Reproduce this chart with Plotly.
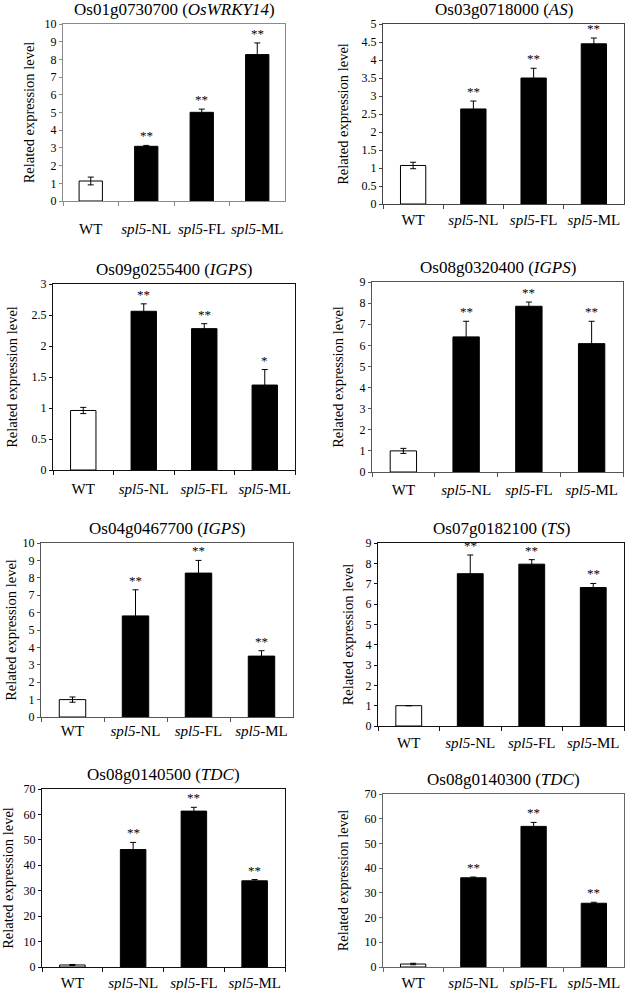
import plotly.graph_objects as go

W, H = 626, 990

categories = ["WT", "spl5-NL", "spl5-FL", "spl5-ML"]
tick_labels = ["WT", "<i>spl5</i>-NL", "<i>spl5</i>-FL", "<i>spl5</i>-ML"]

titles = [
    "Os01g0730700 (<i>OsWRKY14</i>)",
    "Os03g0718000 (<i>AS</i>)",
    "Os09g0255400 (<i>IGPS</i>)",
    "Os08g0320400 (<i>IGPS</i>)",
    "Os04g0467700 (<i>IGPS</i>)",
    "Os07g0182100 (<i>TS</i>)",
    "Os08g0140500 (<i>TDC</i>)",
    "Os08g0140300 (<i>TDC</i>)",
]

v1 = [1.13, 3.09, 5.01, 8.27]; e1 = [0.22, 0.05, 0.18, 0.66]; s1 = ["", "**", "**", "**"]
v2 = [1.07, 2.64, 3.50, 4.45]; e2 = [0.09, 0.22, 0.27, 0.16]; s2 = ["", "**", "**", "**"]
v3 = [0.96, 2.56, 2.28, 1.37]; e3 = [0.05, 0.12, 0.08, 0.25]; s3 = ["", "**", "**", "*"]
v4 = [1.00, 6.40, 7.85, 6.08]; e4 = [0.12, 0.74, 0.20, 1.06]; s4 = ["", "**", "**", "**"]
v5 = [1.00, 5.81, 8.27, 3.50]; e5 = [0.15, 1.50, 0.73, 0.31]; s5 = ["", "**", "**", "**"]
v6 = [1.00, 7.49, 7.96, 6.81]; e6 = [0.00, 0.92, 0.22, 0.20]; s6 = ["", "**", "**", "**"]
v7 = [0.8, 46.2, 61.3, 33.9]; e7 = [0.2, 2.8, 1.5, 0.5]; s7 = ["", "**", "**", "**"]
v8 = [1.2, 36.1, 56.9, 25.8]; e8 = [0.3, 0.3, 1.6, 0.4]; s8 = ["", "**", "**", "**"]

values = [v1, v2, v3, v4, v5, v6, v7, v8]
errors = [e1, e2, e3, e4, e5, e6, e7, e8]
sigs = [s1, s2, s3, s4, s5, s6, s7, s8]

y_max = [10, 5, 3, 9, 10, 9, 70, 70]
y_dtick = [1, 0.5, 0.5, 1, 1, 1, 10, 10]

# panel boxes in pixels: (left, right, top, bottom)
boxes = [
    (63, 285, 24, 201),
    (383, 624, 24, 204),
    (53, 295, 284, 470),
    (372, 623, 282, 472),
    (41, 293, 543, 717),
    (378, 624, 543, 726),
    (42, 285, 789, 967),
    (383, 624, 794, 967),
]
line_colors = ["#8a8a8a", "#444444", "#111111", "#555555", "#555555", "#111111", "#111111", "#666666"]
x_standoff = [14, 2, 5, 4, 0, 3, 2, 2]
y_standoff = [6, 9, 10, 12, 2, 8, 9, 12]

FONT = "Liberation Serif"

fig = go.Figure()
annotations = []
for i in range(8):
    l, r, t, b = boxes[i]
    xa = "x" if i == 0 else f"x{i+1}"
    ya = "y" if i == 0 else f"y{i+1}"
    fig.add_trace(go.Bar(
        x=categories, y=values[i],
        marker=dict(color=["white", "black", "black", "black"],
                    line=dict(color="black", width=1)),
        error_y=dict(type="data", array=errors[i], visible=True,
                     color="black", thickness=1, width=3),
        xaxis=xa, yaxis=ya, showlegend=False, hoverinfo="skip",
    ))
    key = "" if i == 0 else str(i + 1)
    fig.update_layout(**{
        f"xaxis{key}": dict(
            domain=[l / W, r / W], anchor=ya, automargin=False,
            categoryorder="array", categoryarray=categories,
            tickmode="array", tickvals=categories, ticktext=tick_labels,
            tickangle=0,
            showline=True, linecolor=line_colors[i], linewidth=1, mirror=True,
            ticks="outside", tickson="boundaries", ticklen=4, tickcolor=line_colors[i],
            ticklabelstandoff=x_standoff[i],
            tickfont=dict(family=FONT, size=15, color="black"),
            showgrid=False, zeroline=False, fixedrange=True,
        ),
        f"yaxis{key}": dict(
            domain=[1 - b / H, 1 - t / H], anchor=xa, automargin=False,
            range=[0, y_max[i]], dtick=y_dtick[i], tick0=0,
            showline=True, linecolor=line_colors[i], linewidth=1, mirror=True,
            ticks="outside", ticklen=3, tickcolor=line_colors[i],
            tickfont=dict(family=FONT, size=12, color="black"),
            title=dict(text="Related expression level", standoff=y_standoff[i],
                       font=dict(family=FONT, size=14.5, color="black")),
            showgrid=False, zeroline=False, fixedrange=True,
        ),
    })
    annotations.append(dict(
        text=titles[i], xref="paper", yref="paper",
        x=(l + r) / 2 / W, y=1 - t / H, xanchor="center", yanchor="bottom",
        yshift=3, showarrow=False, font=dict(family=FONT, size=17, color="black"),
    ))
    for c, v, e, s in zip(categories, values[i], errors[i], sigs[i]):
        if s:
            annotations.append(dict(
                text=s, x=c, y=v + e, xref=xa, yref=ya,
                xanchor="center", yanchor="bottom", yshift=0,
                showarrow=False, font=dict(family=FONT, size=13, color="black"),
            ))

fig.update_layout(
    width=W, height=H, margin=dict(l=0, r=0, t=0, b=0, autoexpand=False),
    paper_bgcolor="white", plot_bgcolor="white",
    bargap=0.58, annotations=annotations,
    font=dict(family=FONT, color="black"),
)

fig.write_html(
    "out.html",
    config={"displayModeBar": False},
    post_script="document.body.style.margin='0';document.body.style.overflow='hidden';",
)
